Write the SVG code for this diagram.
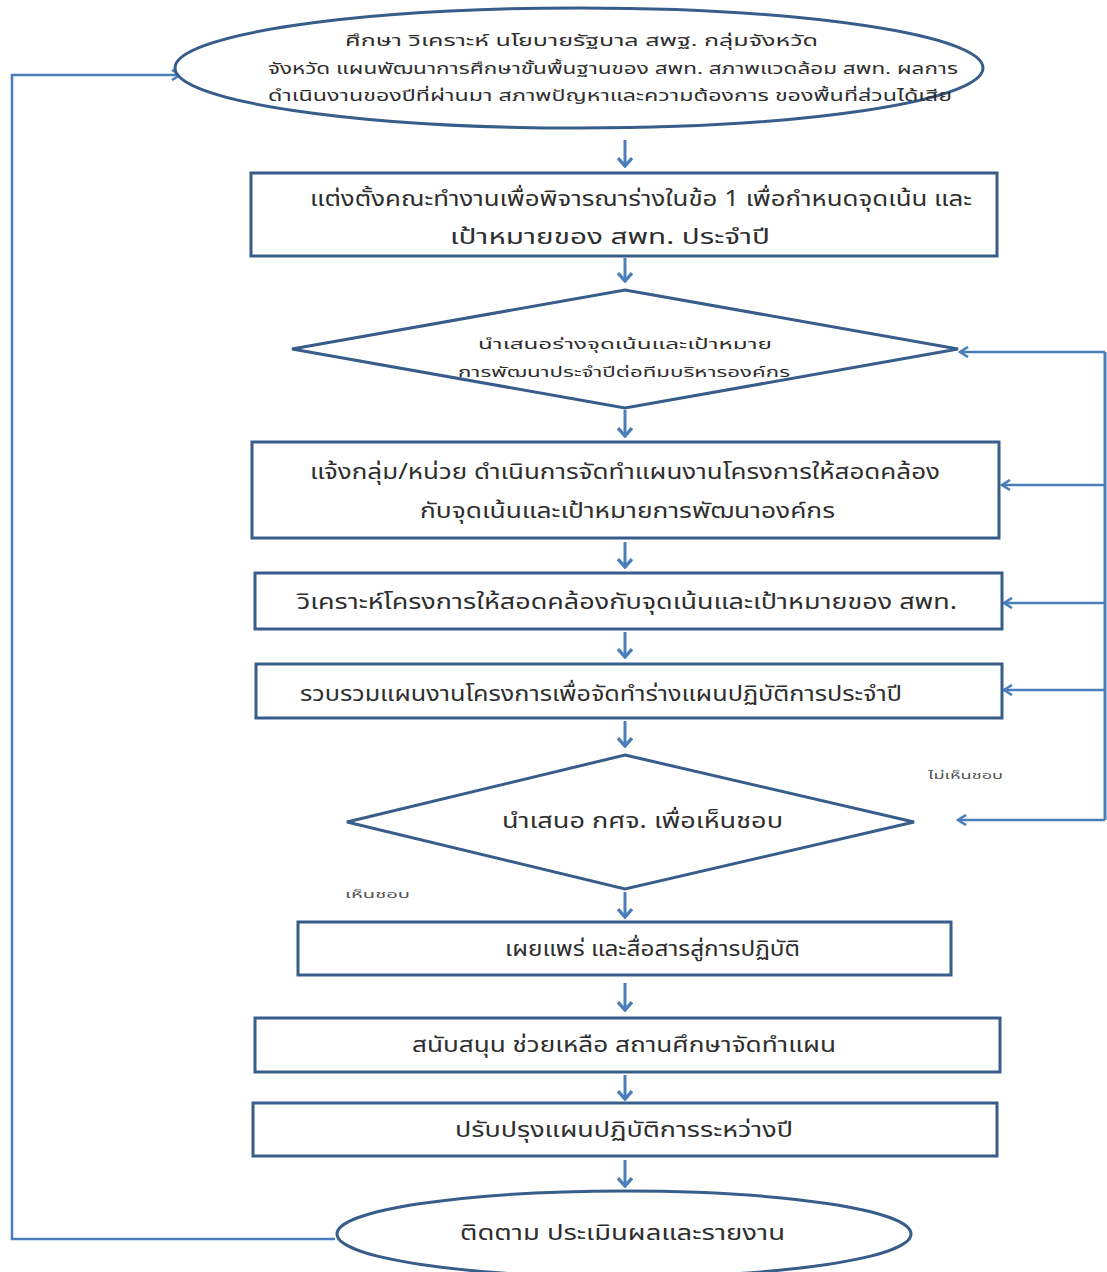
<svg xmlns="http://www.w3.org/2000/svg" width="1107" height="1272" viewBox="0 0 1107 1272">
  <defs>
    <marker id="head" viewBox="0 0 12 12" refX="10" refY="6" markerWidth="12" markerHeight="12" markerUnits="userSpaceOnUse" orient="auto">
      <path d="M2,1 L10,6 L2,11" fill="none" stroke="#4A7EBB" stroke-width="2.6" stroke-linejoin="miter"/>
    </marker>
    <marker id="down" viewBox="0 0 16 14" refX="8" refY="12" markerWidth="16" markerHeight="14" markerUnits="userSpaceOnUse" orient="0">
      <path d="M1,4 L8,12 L15,4" fill="none" stroke="#4A7EBB" stroke-width="3.4"/>
    </marker>
  </defs>
  <style>
    .shape { fill: #FFFFFF; stroke: #385D8A; stroke-width: 3; }
    .flow { fill: none; stroke: #4A7EBB; stroke-width: 3; }
    .loop { fill: none; stroke: #4A7EBB; stroke-width: 2.5; marker-end: url(#head); }
    .step { fill: none; stroke: #4A7EBB; stroke-width: 3; marker-end: url(#down); }
    text { font-family: "Noto Sans Thai", "Tahoma", "Noto Sans", sans-serif; fill: #2E2E2E; }
    .big { font-size: 21px; }
    .mid { font-size: 15px; }
    .small { font-size: 14px; }
    .tiny { font-size: 11px; fill: #555555; }
  </style>
  <rect width="1107" height="1272" fill="#FFFFFF"/>

  <!-- connectors -->
  <g id="connectors">
    <!-- straight steps down the middle -->
    <line class="step" x1="625" y1="140" x2="625" y2="166"/>
    <line class="step" x1="625" y1="258" x2="625" y2="281"/>
    <line class="step" x1="625" y1="410" x2="625" y2="436"/>
    <line class="step" x1="625" y1="542" x2="625" y2="567"/>
    <line class="step" x1="625" y1="632" x2="625" y2="657"/>
    <line class="step" x1="625" y1="721" x2="625" y2="746"/>
    <line class="step" x1="625" y1="892" x2="625" y2="917"/>
    <line class="step" x1="625" y1="983" x2="625" y2="1010"/>
    <line class="step" x1="625" y1="1075" x2="625" y2="1099"/>
    <line class="step" x1="625" y1="1160" x2="625" y2="1186"/>
    <!-- feedback loop on the right -->
    <polyline class="flow" points="1105,352 1105,820"/>
    <line class="loop" x1="1105" y1="352" x2="960" y2="352"/>
    <line class="loop" x1="1105" y1="485" x2="1002" y2="485"/>
    <line class="loop" x1="1105" y1="603" x2="1004" y2="603"/>
    <line class="loop" x1="1105" y1="690" x2="1004" y2="690"/>
    <line class="loop" x1="1105" y1="820" x2="958" y2="820"/>
    <!-- return loop on the left -->
    <polyline class="loop" points="335,1239 12,1239 12,75 180,75"/>
  </g>

  <g id="n1">
    <ellipse class="shape" cx="579" cy="68" rx="404" ry="60"/>
    <text class="mid" x="345" y="46" textLength="473" lengthAdjust="spacingAndGlyphs">ศึกษา วิเคราะห์ นโยบายรัฐบาล สพฐ. กลุ่มจังหวัด</text>
    <text class="mid" x="268" y="74" textLength="690" lengthAdjust="spacingAndGlyphs">จังหวัด แผนพัฒนาการศึกษาขั้นพื้นฐานของ สพท. สภาพแวดล้อม    สพท. ผลการ</text>
    <text class="mid" x="268" y="101" textLength="684" lengthAdjust="spacingAndGlyphs">ดำเนินงานของปีที่ผ่านมา สภาพปัญหาและความต้องการ ของพื้นที่ส่วนได้เสีย</text>
  </g>

  <g id="n2">
    <rect class="shape" x="251" y="173" width="746" height="83"/>
    <text class="big" x="310" y="206" textLength="662" lengthAdjust="spacingAndGlyphs">แต่งตั้งคณะทำงานเพื่อพิจารณาร่างในข้อ 1 เพื่อกำหนดจุดเน้น และ</text>
    <text class="big" x="450" y="244" textLength="320" lengthAdjust="spacingAndGlyphs">เป้าหมายของ สพท. ประจำปี</text>
  </g>

  <g id="n3">
    <polygon class="shape" points="625,290 958,349 625,408 292,349"/>
    <text class="small" x="478" y="349" textLength="294" lengthAdjust="spacingAndGlyphs">นำเสนอร่างจุดเน้นและเป้าหมาย</text>
    <text class="small" x="458" y="377" textLength="332" lengthAdjust="spacingAndGlyphs">การพัฒนาประจำปีต่อทีมบริหารองค์กร</text>
  </g>

  <g id="n4">
    <rect class="shape" x="252" y="442" width="747" height="96"/>
    <text class="big" x="310" y="479" textLength="630" lengthAdjust="spacingAndGlyphs">แจ้งกลุ่ม/หน่วย ดำเนินการจัดทำแผนงานโครงการให้สอดคล้อง</text>
    <text class="big" x="420" y="518" textLength="415" lengthAdjust="spacingAndGlyphs">กับจุดเน้นและเป้าหมายการพัฒนาองค์กร</text>
  </g>

  <g id="n5">
    <rect class="shape" x="255" y="573" width="747" height="56"/>
    <text class="big" x="297" y="609" textLength="660" lengthAdjust="spacingAndGlyphs">วิเคราะห์โครงการให้สอดคล้องกับจุดเน้นและเป้าหมายของ สพท.</text>
  </g>

  <g id="n6">
    <rect class="shape" x="256" y="664" width="746" height="54"/>
    <text class="big" x="300" y="701" textLength="602" lengthAdjust="spacingAndGlyphs">รวบรวมแผนงานโครงการเพื่อจัดทำร่างแผนปฏิบัติการประจำปี</text>
  </g>

  <g id="n7">
    <polygon class="shape" points="625,755 914,822 625,889 347,822"/>
    <text class="big" x="502" y="828" textLength="281" lengthAdjust="spacingAndGlyphs">นำเสนอ กศจ. เพื่อเห็นชอบ</text>
  </g>

  <g id="labels">
    <text class="tiny" x="928" y="779" textLength="75" lengthAdjust="spacingAndGlyphs">ไม่เห็นชอบ</text>
    <text class="tiny" x="345" y="898" textLength="65" lengthAdjust="spacingAndGlyphs">เห็นชอบ</text>
  </g>

  <g id="n8">
    <rect class="shape" x="298" y="922" width="653" height="53"/>
    <text class="big" x="505" y="956" textLength="295" lengthAdjust="spacingAndGlyphs">เผยแพร่ และสื่อสารสู่การปฏิบัติ</text>
  </g>

  <g id="n9">
    <rect class="shape" x="255" y="1018" width="745" height="54"/>
    <text class="big" x="412" y="1052" textLength="424" lengthAdjust="spacingAndGlyphs">สนับสนุน ช่วยเหลือ สถานศึกษาจัดทำแผน</text>
  </g>

  <g id="n10">
    <rect class="shape" x="253" y="1103" width="744" height="53"/>
    <text class="big" x="455" y="1137" textLength="338" lengthAdjust="spacingAndGlyphs">ปรับปรุงแผนปฏิบัติการระหว่างปี</text>
  </g>

  <g id="n11">
    <ellipse class="shape" cx="624" cy="1234" rx="287" ry="43"/>
    <text class="big" x="460" y="1240" textLength="325" lengthAdjust="spacingAndGlyphs">ติดตาม ประเมินผลและรายงาน</text>
  </g>
</svg>
